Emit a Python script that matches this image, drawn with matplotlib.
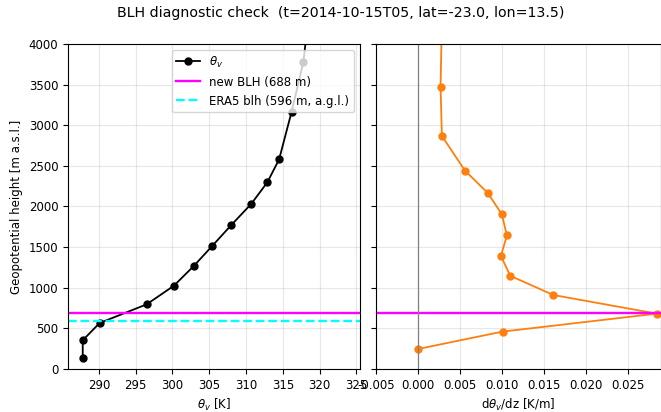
import numpy as np
import matplotlib.pyplot as plt

# virtual potential temperature profile
z_theta = [139, 353, 566, 796, 1025, 1268, 1514, 1772, 2031, 2298, 2581, 3167, 3782, 4420]
theta_v = [287.8, 287.8, 290.1, 296.5, 300.2, 302.9, 305.4, 308.0, 310.7, 312.9, 314.5, 316.2, 317.8, 318.6]

# vertical gradient at mid-levels
z_mid = [246, 460, 681, 911, 1147, 1391, 1643, 1904, 2166, 2441, 2868, 3471, 4100]
dtheta_dz = [0.0, 0.01005, 0.0284, 0.01608, 0.01097, 0.00986, 0.01057, 0.00997, 0.0083,
             0.00559, 0.00284, 0.00268, 0.0028]

new_blh = 688
era5_blh = 596

plt.rcParams['font.size'] = 8.5

fig = plt.figure(figsize=(6.61, 4.12), dpi=100)
ax1 = fig.add_axes([0.1029, 0.1044, 0.4418, 0.7888])
ax2 = fig.add_axes([0.5688, 0.1044, 0.4312, 0.7888], sharey=ax1)

ax1.plot(theta_v, z_theta, '-o', color='black', lw=1.3, ms=5, label=r'$\theta_v$')
ax1.axhline(new_blh, color='magenta', lw=1.7, label=f'new BLH ({new_blh} m)')
ax1.axhline(era5_blh, color='cyan', lw=1.7, ls='--', label=f'ERA5 blh ({era5_blh} m, a.g.l.)')
ax1.set_xlim(285.8, 325.5)
ax1.set_ylim(0, 4000)
ax1.set_xticks(np.arange(290, 326, 5))
ax1.set_xlabel(r'$\theta_v$ [K]')
ax1.set_ylabel('Geopotential height [m a.s.l.]')
ax1.grid(alpha=0.3)
ax1.legend(loc='upper right')

ax2.plot(dtheta_dz, z_mid, '-o', color='tab:orange', lw=1.3, ms=5)
ax2.axhline(new_blh, color='magenta', lw=1.7)
ax2.axvline(0, color='grey', lw=0.9)
ax2.set_xlim(-0.005, 0.0289)
ax2.set_xticks(np.arange(-0.005, 0.0251, 0.005))
ax2.set_xticklabels(['-0.005', '0.000', '0.005', '0.010', '0.015', '0.020', '0.025'])
ax2.set_xlabel(r'd$\theta_v$/dz [K/m]')
ax2.grid(alpha=0.3)
ax2.tick_params(labelleft=False)

fig.suptitle('BLH diagnostic check  (t=2014-10-15T05, lat=-23.0, lon=13.5)',
             fontsize=10.2, x=0.515, y=0.985)

plt.savefig('out.png', dpi=100)
